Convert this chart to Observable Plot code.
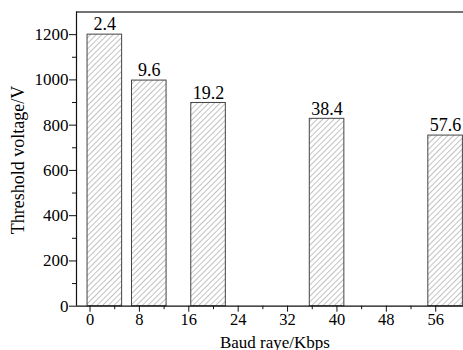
<!DOCTYPE html>
<html>
<head>
<meta charset="utf-8">
<script src="https://cdn.jsdelivr.net/npm/d3@7"></script>
<script src="https://cdn.jsdelivr.net/npm/@observablehq/plot@0.6"></script>
<style>
  html, body { margin: 0; padding: 0; background: #fff; }
  #chart svg { display: block; }
</style>
</head>
<body>
<div id="chart"></div>
<script>
const baud = [2.4, 9.6, 19.2, 38.4, 57.6];
const voltage = [1200, 997, 898, 828, 754];
const barLabels = ["2.4", "9.6", "19.2", "38.4", "57.6"];
const xTicks = [0, 8, 16, 24, 32, 40, 48, 56];
const xMinor = [4, 12, 20, 28, 36, 44, 52];
const yTicks = [0, 200, 400, 600, 800, 1000, 1200];
const yMinor = [100, 300, 500, 700, 900, 1100];
const xTitle = "Baud raye/Kbps";
const yTitle = "Threshold voltage/V";

const halfWidth = 2.8;
const rows = baud.map((b, i) => ({b, v: voltage[i], label: barLabels[i]}));

const font = "'Liberation Serif', 'Times New Roman', serif";
const ink = "#111";

const plot = Plot.plot({
  width: 463,
  height: 350,
  marginLeft: 76,
  marginRight: 0,
  marginTop: 11.5,
  marginBottom: 44.3,
  style: {fontFamily: font, fontSize: "17px", color: ink, background: "#fff"},
  x: {domain: [-2.19, 60.5]},
  y: {domain: [0, 1300]},
  marks: [
    Plot.rectY(rows, {x1: d => d.b - halfWidth, x2: d => d.b + halfWidth, y1: 0, y2: "v",
      fill: "url(#hatch)", stroke: "#444", strokeWidth: 1}),
    Plot.text(rows, {x: "b", y: "v", text: "label", dy: -10, fontSize: 18, fill: "#000"}),
    Plot.axisX({ticks: xTicks, tickSize: 6, tickPadding: 1, tickFormat: d => String(d), label: null, fontSize: 16.5, fill: "#000", stroke: ink}),
    Plot.axisX({ticks: xMinor, tickSize: 3.5, tickFormat: () => "", label: null, stroke: ink}),
    Plot.axisY({ticks: yTicks, tickSize: 7, tickPadding: 1, tickFormat: d => String(d), label: null, fontSize: 17, fill: "#000", stroke: ink}),
    Plot.axisY({ticks: yMinor, tickSize: 4, tickFormat: () => "", label: null, stroke: ink}),
    Plot.ruleY([0], {stroke: ink, strokeWidth: 1.2}),
    Plot.ruleY([1300], {stroke: "#444", strokeWidth: 1.5}),
    Plot.ruleX([-2.19], {stroke: ink, strokeWidth: 1.2})
  ]
});

const svg = d3.select(plot);
const defs = svg.insert("defs", ":first-child");
const pat = defs.append("pattern")
  .attr("id", "hatch")
  .attr("patternUnits", "userSpaceOnUse")
  .attr("width", 4)
  .attr("height", 4)
  .attr("patternTransform", "rotate(45)");
pat.append("rect").attr("width", 4).attr("height", 4).attr("fill", "#fff");
pat.append("line").attr("x1", 0).attr("y1", 0).attr("x2", 0).attr("y2", 4)
  .attr("stroke", "#777").attr("stroke-width", 0.9);

svg.append("text")
  .attr("x", 275).attr("y", 347.5)
  .attr("text-anchor", "middle")
  .attr("font-family", font).attr("font-size", 17).attr("fill", "#000")
  .text(xTitle);
svg.append("text")
  .attr("transform", "translate(24,160) rotate(-90)")
  .attr("text-anchor", "middle")
  .attr("font-family", font).attr("font-size", 18).attr("fill", "#000")
  .text(yTitle);

document.getElementById("chart").appendChild(plot);
</script>
</body>
</html>
